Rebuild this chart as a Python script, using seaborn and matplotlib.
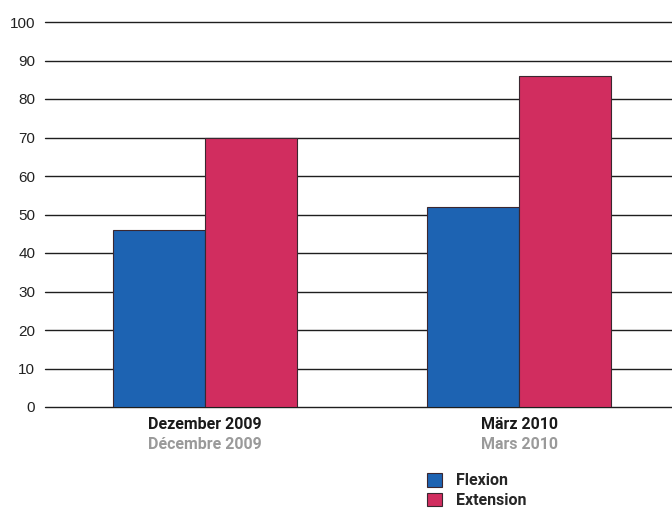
import matplotlib
matplotlib.use("Agg")
import matplotlib.pyplot as plt
import seaborn as sns
import pandas as pd

# Values per period
periods_de = ["Dezember 2009", "März 2010"]
periods_fr = ["Décembre 2009", "Mars 2010"]
measures = ["Flexion", "Extension"]
flexion = [46, 52]
extension = [70, 86]
y_ticks = [0, 10, 20, 30, 40, 50, 60, 70, 80, 90, 100]

df = pd.DataFrame({
    "period": periods_de * 2,
    "measure": [measures[0]] * 2 + [measures[1]] * 2,
    "value": flexion + extension,
})

sns.set_theme(style="white")
plt.rcParams["font.family"] = ["Liberation Sans", "DejaVu Sans"]

blue = "#1d63b2"
pink = "#d12d5f"
label_font = ["Roboto", "DejaVu Sans"]

fig = plt.figure(figsize=(6.72, 5.08), dpi=100)
ax = fig.add_axes([45 / 672, 101 / 508, 627 / 672, 385 / 508])

sns.barplot(
    data=df, x="period", y="value", hue="measure", hue_order=measures,
    palette=[blue, pink], width=0.586, saturation=1, gap=0,
    edgecolor="#3b2730", linewidth=0.8, ax=ax,
)

ax.set_xlim(-0.51, 1.487)
ax.set_ylim(0, 100)
ax.set_yticks(y_ticks)
ax.set_yticklabels([str(v) for v in y_ticks], fontsize=11, color="#222222")
ax.yaxis.grid(True, color="#1e1e1e", linewidth=1.0)
ax.set_axisbelow(True)
for line in ax.get_ygridlines():
    line.set_clip_on(False)
for s in ax.spines.values():
    s.set_visible(False)
ax.tick_params(axis="y", length=0, pad=7)
ax.tick_params(axis="x", length=0)
ax.set_xticklabels([])
ax.set_xlabel("")
ax.set_ylabel("")

# Two-line category labels: German in black, French in grey
for i, (de, fr) in enumerate(zip(periods_de, periods_fr)):
    ax.annotate(de, xy=(i, 0), xycoords=("data", "axes fraction"),
                xytext=(0, -12.5), textcoords="offset points",
                ha="center", va="center", fontsize=11.5, fontweight="bold",
                family=label_font, color="#1a1a1a")
    ax.annotate(fr, xy=(i, 0), xycoords=("data", "axes fraction"),
                xytext=(0, -27), textcoords="offset points",
                ha="center", va="center", fontsize=11.5, fontweight="bold",
                family=label_font, color="#9a9a9a")

leg = ax.legend(
    loc="upper left", bbox_to_anchor=(427 / 672, 1 - 473 / 508),
    bbox_transform=fig.transFigure, frameon=False,
    handlelength=0.94, handleheight=0.94, handletextpad=0.87,
    labelspacing=0.28, borderpad=0, borderaxespad=0,
    prop={"family": label_font, "weight": "bold", "size": 11.5},
)

fig.savefig("out.png", dpi=100, facecolor="white")
